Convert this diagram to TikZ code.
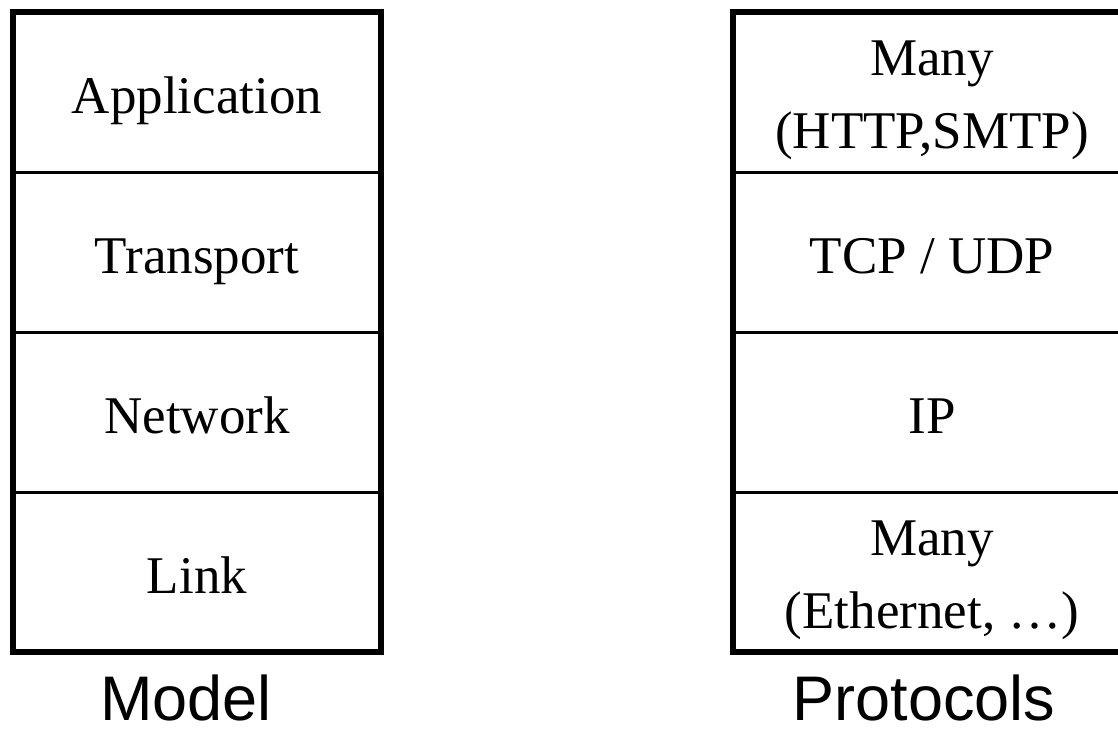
\documentclass[tikz,border=0pt]{standalone}
\usepackage{fontspec}
\setmainfont{Liberation Serif}
\setsansfont{Liberation Sans}
\usetikzlibrary{positioning}
\tikzstyle{layer}=[draw,rectangle,line width=3pt,outer sep=0pt,minimum width=368pt,minimum height=160pt,align=center,font=\fontsize{53}{73}\selectfont,text height=50pt,text depth=8pt]
\tikzstyle{proto}=[layer,minimum width=398pt]
\tikzstyle{twoline}=[text height=120pt,text depth=8pt]
\tikzstyle{caption}=[font=\sffamily\fontsize{63}{70}\selectfont,anchor=base,inner sep=0pt,text depth=0pt]

\begin{document}
\begin{tikzpicture}[x=1pt,y=-1pt]
  \clip (0,0) rectangle (1118,729);
  % model stack
  \node[layer] (app) at (197,92) {Application};
  \node[layer, below=0pt of app] (trans) {Transport};
  \node[layer, below=0pt of trans] (net) {Network};
  \node[layer, below=0pt of net] (link) {Link};
  \draw[line width=6pt] (app.north west) rectangle (link.south east);
  % protocol stack
  \node[proto, twoline] (many1) at (932,92) {Many\\(HTTP,SMTP)};
  \node[proto, below=0pt of many1] (tcp) {TCP / UDP};
  \node[proto, below=0pt of tcp] (ip) {IP};
  \node[proto, twoline, below=0pt of ip] (many2) {Many\\(Ethernet, \dots)};
  \draw[line width=6pt] (many1.north west) rectangle (many2.south east);
  % captions
  \node[caption] (model) at (186,720) {Model};
  \node[caption] (protocols) at (924,720) {Protocols};
\end{tikzpicture}
\end{document}
